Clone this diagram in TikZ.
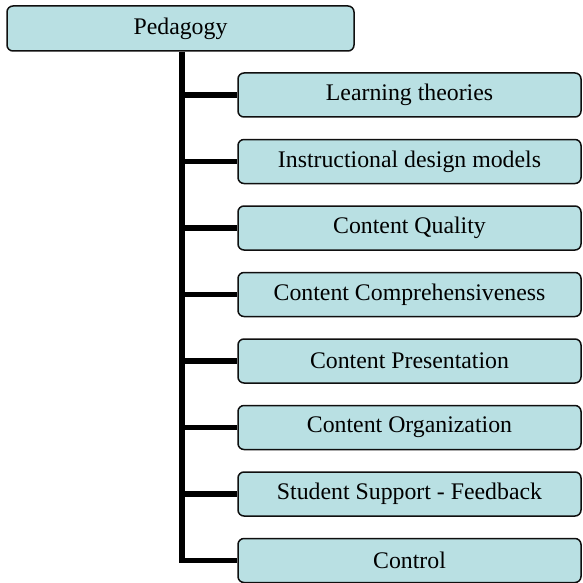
\documentclass[tikz,border=0pt]{standalone}
\usepackage{fontspec}
\setmainfont{Liberation Serif}
\definecolor{boxfill}{RGB}{185,224,227}
\definecolor{boxline}{RGB}{15,15,15}
\begin{document}
\begin{tikzpicture}[x=1pt,y=-1pt,
  pbox/.style={draw=boxline, line width=1.5pt, fill=boxfill, rounded corners=6pt,
    minimum height=44pt, inner sep=0pt, font=\fontsize{23.8}{26}\selectfont},
  childbox/.style={pbox, minimum width=343pt},
  conn/.style={line width=5.5pt, black, line join=miter}]
\useasboundingbox (0,0) rectangle (582,583);
\node[pbox, minimum width=347pt, minimum height=45pt] (ped) at (180.5,28.5) {Pedagogy};
\coordinate (spine) at (182,0);
\node[childbox] (c1) at (409.5,95) {Learning theories};
\node[childbox] (c2) at (409.5,161.5) {Instructional design models};
\node[childbox] (c3) at (409.5,228) {Content Quality};
\node[childbox] (c4) at (409.5,294.5) {Content Comprehensiveness};
\node[childbox] (c5) at (409.5,361) {Content Presentation};
\node[childbox] (c6) at (409.5,427.5) {Content Organization};
\node[childbox] (c7) at (409.5,494) {Student Support - Feedback};
\node[childbox] (c8) at (409.5,560.5) {Control};
\begin{scope}[on background layer/.style={}]
\end{scope}
\draw[conn] (spine |- ped.south) |- (c8.west);
\foreach \k in {1,...,7}{
  \draw[conn] (spine |- c\k.west) -- (c\k.west);
}
\end{tikzpicture}
\end{document}
